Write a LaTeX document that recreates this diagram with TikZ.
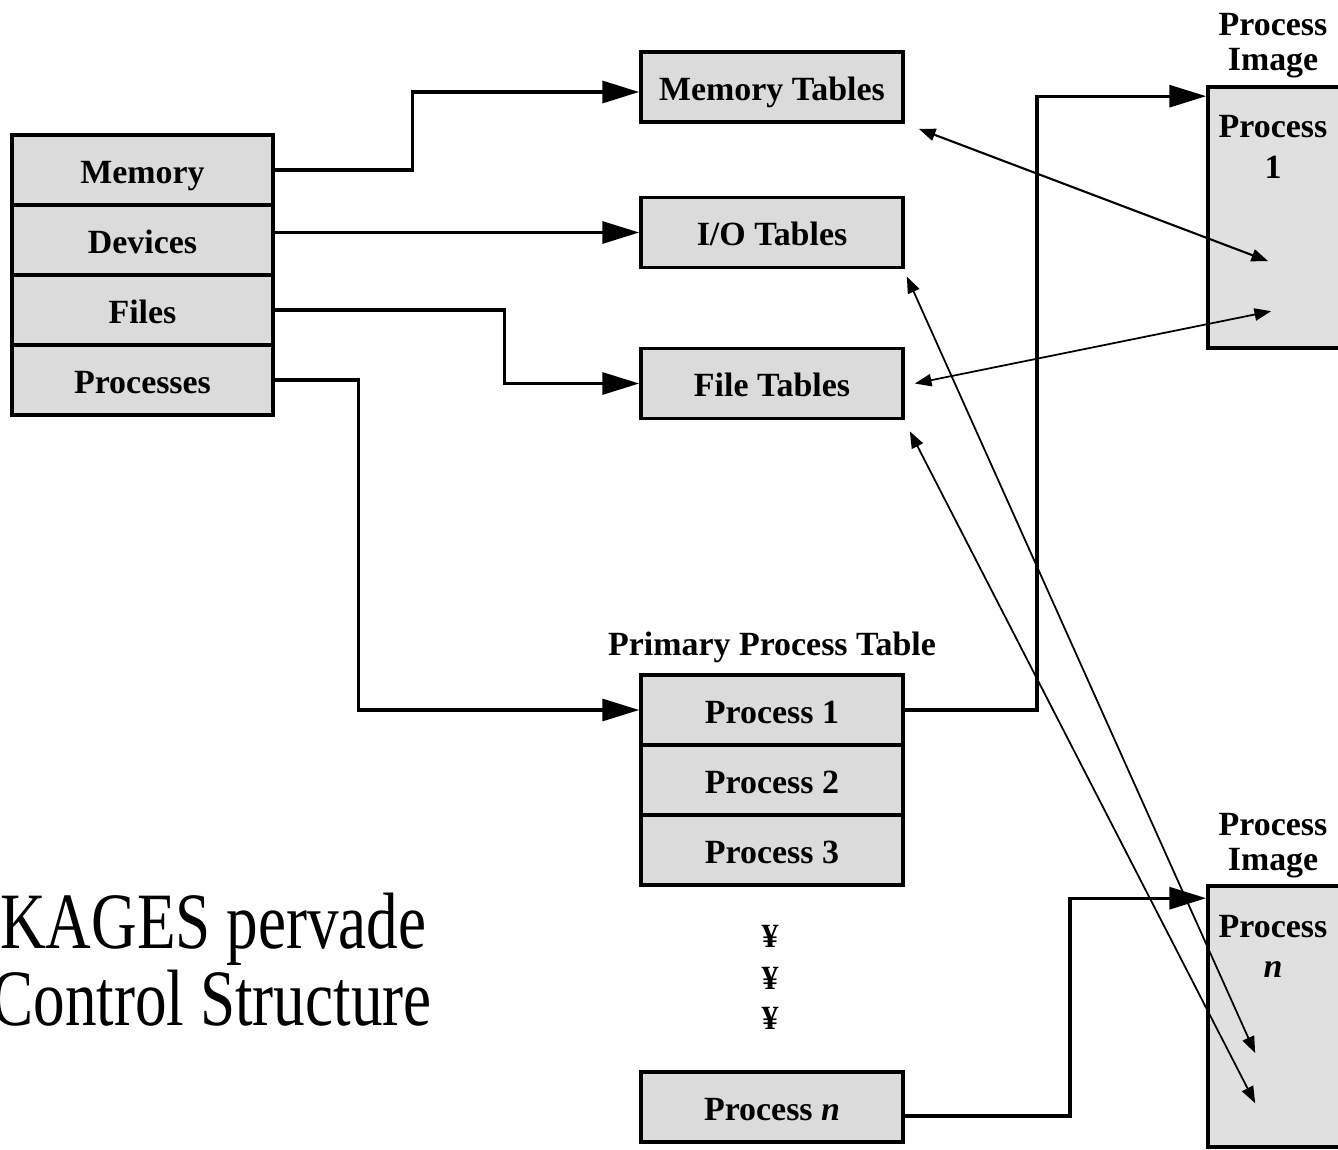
\documentclass[tikz,border=0pt]{standalone}
\usepackage{fontspec}
\setmainfont{Liberation Serif}
\newfontfamily\captionserif[FakeStretch=0.79]{Liberation Serif}
\usetikzlibrary{arrows.meta,calc}
\definecolor{cellgray}{RGB}{219,219,219}
\definecolor{imagegray}{RGB}{224,224,224}
\tikzset{
  labelfont/.style={font=\fontsize{19.3pt}{22pt}\selectfont\bfseries,
    text height=15pt, text depth=0pt},
  cell/.style={draw=black, line width=2.1pt, fill=cellgray, inner sep=0pt,
    minimum width=5.24cm, minimum height=1.4cm, labelfont},
  leftcell/.style={cell, minimum width=5.22cm},
  imagebox/.style={draw=black, line width=2.1pt, fill=imagegray, inner sep=0pt,
    minimum width=2.74cm, minimum height=5.22cm},
  plainlabel/.style={inner sep=0pt, labelfont},
  conn/.style={draw=black, line width=1.9pt,
    -{Triangle[length=21pt,width=12.5pt]}},
  link/.style={draw=black, line width=1pt,
    {Triangle[length=9.5pt,width=7pt]}-{Triangle[length=9.5pt,width=7pt]}},
}
\begin{document}
\begin{tikzpicture}[x=0.02cm, y=-0.02cm]
\useasboundingbox (0,0) rectangle (1338,1149);

% resource list on the left
\node[leftcell] (mem) at (142.5,170) {Memory};
\node[leftcell] (dev) at (142.5,240) {Devices};
\node[leftcell] (fil) at (142.5,310) {Files};
\node[leftcell] (prc) at (142.5,380) {Processes};

% control tables
\node[cell] (memtab)  at (772,87)    {Memory Tables};
\node[cell] (iotab)   at (772,232.5) {I/O Tables};
\node[cell] (filetab) at (772,383.5) {File Tables};

% primary process table
\node[plainlabel] (ppt) at (772,642) {Primary Process Table};
\node[cell] (p1) at (772,710) {Process 1};
\node[cell] (p2) at (772,780) {Process 2};
\node[cell] (p3) at (772,850) {Process 3};
\node[plainlabel] (dot1) at (770,934.5)  {¥};
\node[plainlabel] (dot2) at (770,976.5)  {¥};
\node[plainlabel] (dot3) at (770,1016.5) {¥};
\node[cell] (pn) at (772,1107) {Process \textit{n}};

% process images
\node[plainlabel] (img1t1) at (1273,22) {Process};
\node[plainlabel] (img1t2) at (1273,57.5) {Image};
\node[imagebox] (img1) at (1276.5,217.5) {};
\node[plainlabel] (img1l1) at (1273,124) {Process};
\node[plainlabel] (img1l2) at (1273,165.5) {1};

\node[plainlabel] (imgnt1) at (1273,822) {Process};
\node[plainlabel] (imgnt2) at (1273,857.5) {Image};
\node[imagebox] (imgn) at (1276.5,1016.5) {};
\node[plainlabel] (imgnl1) at (1273,924) {Process};
\node[plainlabel] (imgnl2) at (1273,964) {\textit{n}};

% caption text
\node[anchor=base west, inner sep=0pt,
  font=\captionserif\fontsize{45.5pt}{50pt}\selectfont] (cap1) at (0,948) {KAGES pervade};
\node[anchor=base west, inner sep=0pt,
  font=\captionserif\fontsize{45.5pt}{50pt}\selectfont] (cap2) at (-9,1025) {Control Structure};

% heavy connectors
\draw[conn] (mem.east) -- ++(138,0) |- ($(memtab.west)+(0,5)$);
\draw[conn] (dev.east |- iotab.west) -- (iotab.west);
\draw[conn] (fil.east) -- ++(230,0) |- (filetab.west);
\draw[conn] (prc.east) -- ++(84,0) |- (p1.west);
\draw[conn] (p1.east) -- ++(132,0) |- ($(img1.north west)+(0,11)$);
\draw[conn] ($(pn.east)+(0,9)$) -- ++(165,0) |- ($(imgn.north west)+(0,14)$);

% pointers between tables and process images
\coordinate (mtA)  at ($(memtab.south east)+(14,5)$);
\coordinate (ioA)  at ($(iotab.south east)+(2,7)$);
\coordinate (ftA)  at ($(filetab.east)+(10,0)$);
\coordinate (ftB)  at ($(filetab.south east)+(5,11)$);
\coordinate (im1A) at ($(img1.north west)+(62,176)$);
\coordinate (im1B) at ($(img1.north west)+(65,226)$);
\coordinate (imnA) at ($(imgn.north west)+(49,169)$);
\coordinate (imnB) at ($(imgn.north west)+(49,219)$);

\draw[link, line width=1.2pt] (mtA) -- (im1A);
\draw[link] (ftA) -- (im1B);
\draw[link] (ioA) -- (imnA);
\draw[link] (ftB) -- (imnB);
\end{tikzpicture}
\end{document}
